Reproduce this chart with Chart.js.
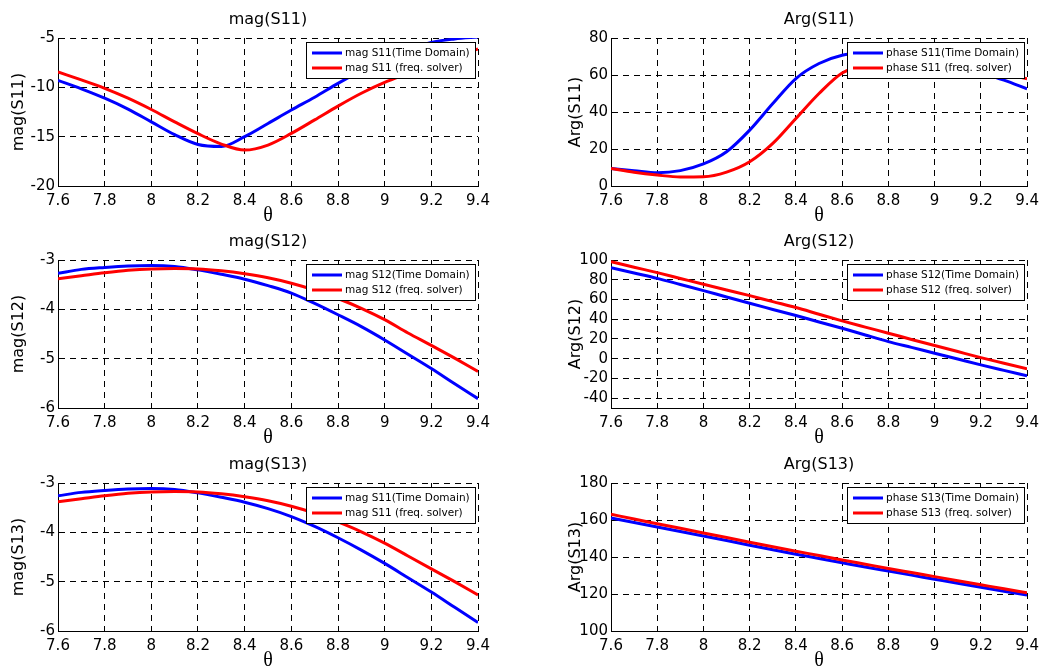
<!DOCTYPE html>
<html>
<head>
<meta charset="utf-8">
<script src="https://cdn.jsdelivr.net/npm/chart.js@4/dist/chart.umd.min.js"></script>
<style>
  body { margin: 0; background: #fff; }
  #wrap { position: relative; width: 1045px; height: 672px; overflow: hidden; background: #fff; }
  canvas { position: absolute; }
</style>
</head>
<body>
<div id="wrap">
  <canvas id="c1" width="520" height="228" style="left:0;top:0"></canvas>
  <canvas id="c2" width="525" height="228" style="left:520px;top:0"></canvas>
  <canvas id="c3" width="520" height="228" style="left:0;top:222px"></canvas>
  <canvas id="c4" width="525" height="228" style="left:520px;top:222px"></canvas>
  <canvas id="c5" width="520" height="228" style="left:0;top:445px"></canvas>
  <canvas id="c6" width="525" height="228" style="left:520px;top:445px"></canvas>
</div>
<script>
// theta samples (x axis)
const theta = [7.6, 7.7, 7.8, 7.9, 8.0, 8.1, 8.2, 8.3, 8.4, 8.5, 8.6, 8.7, 8.8, 8.9, 9.0, 9.1, 9.2, 9.3, 9.4];
const thetaTicks = [7.6, 7.8, 8, 8.2, 8.4, 8.6, 8.8, 9, 9.2, 9.4];

// mag(S11)
const magS11Time = [-9.3, -10.15, -11.1, -12.2, -13.5, -14.8, -15.8, -16.0, -15.0, -13.66, -12.3, -11.0, -9.6, -8.3, -7.2, -6.2, -5.45, -5.1, -4.9];
const magS11Freq = [-8.44, -9.25, -10.1, -11.1, -12.25, -13.5, -14.7, -15.75, -16.36, -15.85, -14.67, -13.3, -11.9, -10.6, -9.5, -8.6, -7.7, -6.9, -6.1];
const magS11Ticks = [-20, -15, -10, -5];

// Arg(S11)
const argS11Time = [9.5, 8.3, 7.2, 8.3, 11.9, 18.5, 30.2, 44.6, 58.1, 66.2, 70.7, 71.8, 72.0, 70.8, 68.6, 65.6, 61.5, 57.2, 52.5];
const argS11Freq = [9.5, 7.4, 5.9, 4.9, 5.0, 7.5, 13.1, 23.0, 36.5, 50.0, 61.1, 65.5, 67.5, 68.0, 67.0, 65.5, 63.3, 60.7, 58.0];
const argS11Ticks = [0, 20, 40, 60, 80];

// mag(S12)
const magS12Time = [-3.27, -3.19, -3.15, -3.12, -3.11, -3.13, -3.2, -3.29, -3.39, -3.52, -3.67, -3.88, -4.11, -4.35, -4.62, -4.91, -5.2, -5.51, -5.81];
const magS12Freq = [-3.38, -3.32, -3.26, -3.21, -3.18, -3.17, -3.18, -3.22, -3.28, -3.36, -3.47, -3.61, -3.78, -3.98, -4.21, -4.48, -4.73, -4.99, -5.26];
const magS12Ticks = [-6, -5, -4, -3];

// Arg(S12)
const argS12Time = [92.2, 86.8, 81.4, 75.2, 69.0, 62.5, 56.1, 49.9, 43.7, 37.2, 30.8, 24.0, 17.3, 11.4, 5.5, -0.4, -6.3, -11.9, -17.4];
const argS12Freq = [98.3, 92.7, 87.2, 81.3, 75.4, 69.6, 63.9, 57.8, 51.8, 45.0, 38.3, 32.0, 25.8, 19.5, 13.3, 7.2, 1.1, -4.6, -10.3];
const argS12Ticks = [-40, -20, 0, 20, 40, 60, 80, 100];

// mag(S13)
const magS13Time = [-3.26, -3.19, -3.15, -3.12, -3.11, -3.13, -3.2, -3.29, -3.39, -3.52, -3.68, -3.88, -4.11, -4.36, -4.63, -4.92, -5.21, -5.52, -5.83];
const magS13Freq = [-3.38, -3.32, -3.26, -3.21, -3.18, -3.17, -3.18, -3.22, -3.28, -3.36, -3.47, -3.61, -3.79, -3.99, -4.22, -4.48, -4.74, -5.0, -5.27];
const magS13Ticks = [-6, -5, -4, -3];

// Arg(S13)
const argS13Time = [161.1, 158.6, 156.2, 153.8, 151.4, 148.9, 146.4, 143.9, 141.5, 139.2, 136.9, 134.6, 132.4, 130.2, 128.0, 125.8, 123.7, 121.5, 119.4];
const argS13Freq = [163.1, 160.5, 158.0, 155.5, 153.0, 150.5, 148.0, 145.5, 143.1, 140.8, 138.4, 136.1, 133.8, 131.6, 129.4, 127.2, 125.0, 122.8, 120.7];
const argS13Ticks = [100, 120, 140, 160, 180];

Chart.defaults.color = '#000';
Chart.defaults.font.family = '"DejaVu Sans", sans-serif';

// title centred over the plot area (matlab style), not over the whole canvas
const areaTitle = {
  id: 'areaTitle',
  afterDraw(chart, args, opts) {
    const { ctx, chartArea } = chart;
    ctx.save();
    ctx.font = '16px "DejaVu Sans"';
    ctx.fillStyle = '#000';
    ctx.textAlign = 'center';
    ctx.textBaseline = 'middle';
    ctx.fillText(opts.text, (chartArea.left + chartArea.right) / 2, chartArea.top - 18);
    ctx.restore();
  }
};

// matlab-like legend box drawn inside the plot area
const boxLegend = {
  id: 'boxLegend',
  afterDraw(chart) {
    const { ctx, chartArea } = chart;
    const sets = chart.data.datasets;
    ctx.save();
    ctx.font = '10.5px "DejaVu Sans"';
    const textW = Math.max(...sets.map(d => ctx.measureText(d.label).width));
    const w = Math.round(39 + textW + 5), h = 36;
    const x = Math.round(chartArea.right - 3 - w), y = Math.round(chartArea.top + 4);
    ctx.fillStyle = '#fff';
    ctx.fillRect(x, y, w, h);
    ctx.strokeStyle = '#000';
    ctx.lineWidth = 1;
    ctx.strokeRect(x + 0.5, y + 0.5, w, h);
    sets.forEach((d, i) => {
      const ly = y + 11 + i * 15;
      ctx.strokeStyle = d.borderColor;
      ctx.lineWidth = 3;
      ctx.beginPath();
      ctx.moveTo(x + 6, ly);
      ctx.lineTo(x + 36, ly);
      ctx.stroke();
      ctx.fillStyle = '#000';
      ctx.textBaseline = 'middle';
      ctx.fillText(d.label, x + 39, ly);
    });
    ctx.restore();
  }
};

function makeChart(id, title, yLabel, timeVals, freqVals, labels, yTicks, yMin, yMax, rightCol) {
  const ctx = document.getElementById(id).getContext('2d');
  const toPts = vals => theta.map((t, i) => ({ x: t, y: vals[i] }));
  const axisWidth = rightCol ? 91 : 58;

  new Chart(ctx, {
    type: 'line',
    data: {
      datasets: [
        { label: labels[0], data: toPts(timeVals), borderColor: '#0000ff', borderWidth: 3, pointRadius: 0, cubicInterpolationMode: 'monotone', order: 1 },
        { label: labels[1], data: toPts(freqVals), borderColor: '#ff0000', borderWidth: 3, pointRadius: 0, cubicInterpolationMode: 'monotone', order: 0 }
      ]
    },
    options: {
      responsive: false,
      animation: false,
      devicePixelRatio: 1,
      layout: { padding: { left: 0, right: rightCol ? 17 : 42, top: 38, bottom: 0 } },
      plugins: {
        legend: { display: false },
        tooltip: { enabled: false },
        areaTitle: { text: title }
      },
      scales: {
        x: {
          type: 'linear',
          min: 7.6,
          max: 9.4,
          afterBuildTicks: s => { s.ticks = thetaTicks.map(v => ({ value: v })); },
          afterFit: s => { s.height = 42; },
          ticks: { font: { size: 15 }, padding: 6, maxRotation: 0, autoSkip: false, callback: v => String(v) },
          grid: { color: '#000', lineWidth: 1, drawTicks: false },
          border: { display: true, color: '#000', width: 1, dash: [6, 5] },
          title: { display: true, text: 'θ', font: { family: '"Liberation Serif", serif', size: 20 }, padding: 0 }
        },
        y: {
          min: yMin,
          max: yMax,
          afterBuildTicks: s => { s.ticks = yTicks.map(v => ({ value: v })); },
          afterFit: s => { s.width = axisWidth; },
          ticks: { font: { size: 15 }, padding: 3, autoSkip: false },
          grid: { color: '#000', lineWidth: 1, drawTicks: false },
          border: { display: true, color: '#000', width: 1, dash: [6, 5] },
          title: { display: true, text: yLabel, font: { size: 16 }, padding: { top: rightCol ? 46 : 9, bottom: 0 } }
        }
      }
    },
    plugins: [areaTitle, boxLegend]
  });
}

makeChart('c1', 'mag(S11)', 'mag(S11)', magS11Time, magS11Freq,
  ['mag S11(Time Domain)', 'mag S11 (freq. solver)'], magS11Ticks, -20, -5, false);
makeChart('c2', 'Arg(S11)', 'Arg(S11)', argS11Time, argS11Freq,
  ['phase S11(Time Domain)', 'phase S11 (freq. solver)'], argS11Ticks, 0, 80, true);
makeChart('c3', 'mag(S12)', 'mag(S12)', magS12Time, magS12Freq,
  ['mag S12(Time Domain)', 'mag S12 (freq. solver)'], magS12Ticks, -6, -3, false);
makeChart('c4', 'Arg(S12)', 'Arg(S12)', argS12Time, argS12Freq,
  ['phase S12(Time Domain)', 'phase S12 (freq. solver)'], argS12Ticks, -50, 100, true);
makeChart('c5', 'mag(S13)', 'mag(S13)', magS13Time, magS13Freq,
  ['mag S11(Time Domain)', 'mag S11 (freq. solver)'], magS13Ticks, -6, -3, false);
makeChart('c6', 'Arg(S13)', 'Arg(S13)', argS13Time, argS13Freq,
  ['phase S13(Time Domain)', 'phase S13 (freq. solver)'], argS13Ticks, 100, 180, true);
</script>
</body>
</html>
